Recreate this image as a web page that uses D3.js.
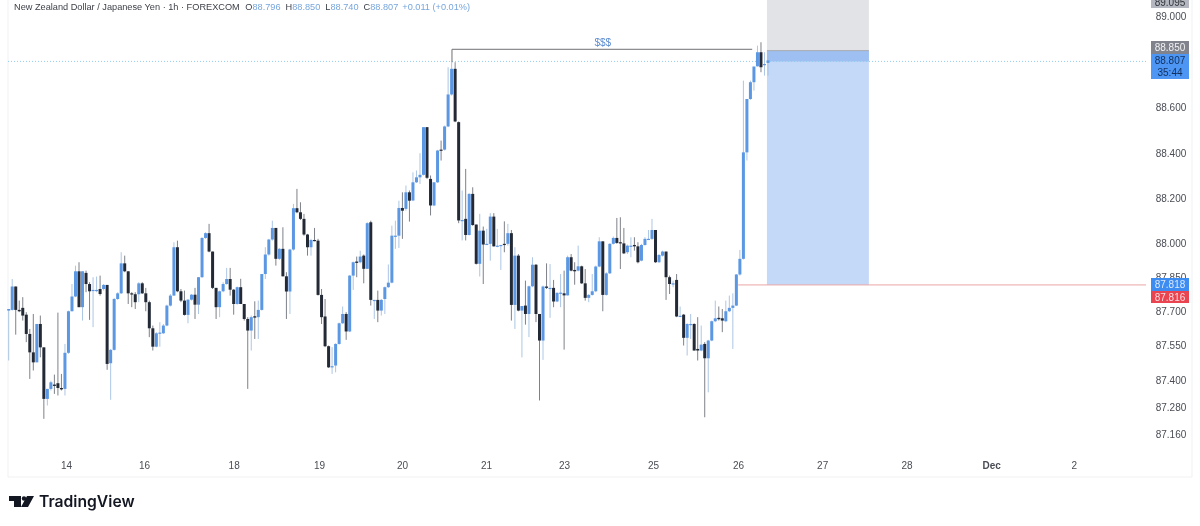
<!DOCTYPE html>
<html lang="en">
<head>
<meta charset="UTF-8">
<title>NZD/JPY 1h</title>
<style>
    body { margin: 0; background: #fff; }
    svg { display: block; filter: blur(0.35px); }
    text { font-family: "Liberation Sans", sans-serif; }
    .tick text { fill: #4a4d55; font-size: 10px; }
</style>
</head>
<body>
<svg id="chart" width="1200" height="526"></svg>
<script src="https://d3js.org/d3.v7.min.js"></script>
<script>
// hourly candles
const opens = [
87.705,87.708,87.811,87.708,87.717,87.687,87.602,87.521,87.477,87.646,
87.543,87.316,87.360,87.379,87.385,87.364,87.360,87.519,87.702,87.767,
87.878,87.720,87.871,87.822,87.793,87.793,87.800,87.800,87.818,87.473,
87.532,87.756,87.781,87.913,87.878,87.781,87.777,87.777,87.825,87.781,
87.742,87.627,87.546,87.605,87.605,87.639,87.727,87.771,87.984,87.790,
87.749,87.686,87.753,87.775,87.731,87.852,88.025,88.046,87.965,87.805,
87.720,87.790,87.822,87.844,87.797,87.734,87.808,87.734,87.668,87.617,
87.680,87.676,87.708,87.866,87.952,88.018,88.069,87.933,87.977,87.856,
87.789,87.974,88.156,88.138,88.109,88.040,87.984,88.016,88.013,87.774,
87.679,87.548,87.455,87.463,87.558,87.649,87.690,87.613,87.859,87.921,
87.918,87.947,87.889,88.094,87.749,87.752,87.705,87.756,87.808,87.828,
88.032,88.035,88.157,88.153,88.226,88.190,88.270,88.292,88.303,88.513,
88.285,88.168,88.270,88.414,88.414,88.516,88.657,88.770,88.535,88.102,
88.109,88.038,88.219,88.084,87.911,88.057,87.996,87.999,88.119,87.988,
87.991,87.999,87.999,88.046,87.730,87.947,87.705,87.727,87.690,87.812,
87.907,87.690,87.573,87.811,87.802,87.805,87.745,87.781,87.781,87.772,
87.940,87.884,87.881,87.900,87.825,87.761,87.774,87.790,87.899,88.010,
87.774,87.869,87.999,88.025,88.006,88.001,87.962,87.988,87.994,87.988,
87.925,87.994,88.018,88.021,88.060,87.918,87.947,87.965,87.852,87.822,
87.840,87.679,87.687,87.585,87.643,87.646,87.536,87.529,87.558,87.495,
87.573,87.658,87.673,87.671,87.658,87.702,87.717,87.727,87.864,87.933,
88.402,88.637,88.711,88.781,88.843,88.787,88.796];
const highs = [
87.712,87.844,87.811,87.749,87.764,87.698,87.624,87.690,87.646,87.683,
87.543,87.360,87.396,87.423,87.696,87.426,87.558,87.705,87.822,87.903,
87.918,87.878,87.881,87.830,87.852,87.855,87.859,87.822,87.818,87.536,
87.761,87.786,87.962,87.947,87.878,87.786,87.786,87.830,87.830,87.805,
87.749,87.639,87.610,87.654,87.646,87.731,87.778,88.006,88.013,87.800,
87.793,87.756,87.778,87.805,87.852,88.028,88.050,88.087,87.965,87.805,
87.793,87.830,87.893,87.893,87.800,87.811,87.845,87.734,87.676,87.683,
87.746,87.749,87.866,87.984,88.021,88.101,88.069,87.981,88.072,87.874,
87.977,88.175,88.241,88.182,88.131,88.043,88.021,88.069,88.021,87.800,
87.756,87.551,87.544,87.561,87.652,87.723,87.698,87.862,87.921,87.943,
87.969,87.952,88.094,88.101,87.752,87.793,87.756,87.811,87.908,88.079,
88.101,88.189,88.226,88.256,88.234,88.314,88.322,88.398,88.513,88.513,
88.300,88.270,88.413,88.454,88.520,88.777,88.799,88.799,88.538,88.234,
88.329,88.222,88.248,88.084,88.131,88.075,88.065,88.134,88.134,88.065,
87.994,88.098,88.087,88.060,87.984,87.954,87.725,87.837,87.815,87.940,
87.910,87.690,87.815,87.913,87.910,87.840,87.786,87.866,87.881,87.947,
87.954,87.918,87.991,87.903,87.888,87.778,87.866,87.903,88.028,88.010,
87.874,88.002,88.031,88.113,88.116,88.069,87.996,88.028,88.028,88.006,
87.999,88.028,88.060,88.109,88.060,87.954,87.969,87.965,87.859,87.837,
87.866,87.723,87.690,87.649,87.690,87.649,87.676,87.639,87.566,87.576,
87.661,87.749,87.723,87.712,87.749,87.771,87.781,87.866,87.972,88.718,
88.637,88.718,88.780,88.872,88.887,88.843,88.850];
const lows = [
87.485,87.705,87.599,87.698,87.661,87.566,87.404,87.441,87.477,87.499,
87.228,87.287,87.353,87.338,87.331,87.353,87.331,87.514,87.702,87.764,
87.720,87.661,87.786,87.664,87.632,87.786,87.771,87.793,87.444,87.312,
87.529,87.752,87.778,87.874,87.734,87.720,87.712,87.742,87.778,87.702,
87.588,87.529,87.543,87.546,87.602,87.636,87.723,87.771,87.786,87.742,
87.683,87.649,87.749,87.668,87.690,87.849,88.021,87.962,87.800,87.668,
87.676,87.786,87.819,87.771,87.687,87.731,87.734,87.661,87.360,87.529,
87.580,87.580,87.705,87.844,87.947,88.013,87.903,87.928,87.855,87.668,
87.690,87.969,88.134,88.104,88.035,87.947,87.947,88.010,87.771,87.646,
87.544,87.452,87.426,87.433,87.555,87.646,87.576,87.610,87.796,87.852,
87.913,87.825,87.889,87.727,87.668,87.654,87.683,87.690,87.805,87.825,
87.977,87.981,88.021,88.145,88.097,88.187,88.267,88.263,88.300,88.285,
88.124,88.165,88.267,88.366,88.410,88.513,88.652,88.535,88.090,88.014,
88.014,88.036,88.078,87.908,87.855,87.822,87.994,87.925,87.987,87.984,
87.884,87.962,87.991,87.661,87.624,87.702,87.499,87.643,87.588,87.808,
87.654,87.309,87.488,87.800,87.673,87.720,87.742,87.720,87.533,87.771,
87.878,87.819,87.878,87.822,87.749,87.742,87.771,87.786,87.896,87.702,
87.771,87.866,87.996,87.999,87.888,87.954,87.954,87.940,87.969,87.913,
87.922,87.991,88.016,88.016,87.915,87.915,87.943,87.752,87.778,87.808,
87.676,87.676,87.551,87.507,87.580,87.529,87.485,87.526,87.235,87.345,
87.570,87.654,87.661,87.610,87.654,87.698,87.536,87.725,87.859,87.930,
88.366,88.633,88.674,88.780,88.755,88.740,88.740];
const closes = [
87.712,87.811,87.708,87.702,87.683,87.602,87.521,87.477,87.646,87.543,
87.316,87.360,87.389,87.373,87.364,87.358,87.519,87.702,87.767,87.878,
87.720,87.878,87.822,87.790,87.796,87.796,87.778,87.818,87.470,87.532,
87.756,87.781,87.913,87.878,87.781,87.777,87.742,87.825,87.781,87.742,
87.627,87.546,87.605,87.608,87.639,87.727,87.771,87.984,87.790,87.749,
87.686,87.753,87.775,87.731,87.852,88.025,88.046,87.965,87.805,87.720,
87.790,87.822,87.844,87.797,87.734,87.808,87.734,87.668,87.617,87.676,
87.674,87.708,87.866,87.952,88.018,88.069,87.933,87.977,87.856,87.789,
87.974,88.156,88.138,88.109,88.040,87.984,88.016,88.013,87.774,87.676,
87.548,87.455,87.460,87.558,87.649,87.690,87.613,87.859,87.918,87.915,
87.943,87.889,88.090,87.752,87.752,87.705,87.752,87.808,87.828,88.035,
88.035,88.157,88.145,88.226,88.189,88.270,88.292,88.303,88.513,88.290,
88.168,88.270,88.410,88.410,88.516,88.657,88.770,88.538,88.102,88.104,
88.038,88.219,88.082,87.911,88.057,87.996,87.999,88.119,87.988,87.991,
87.994,87.994,88.046,87.730,87.947,87.705,87.725,87.690,87.812,87.907,
87.690,87.573,87.811,87.805,87.805,87.745,87.783,87.784,87.772,87.940,
87.881,87.878,87.900,87.825,87.761,87.774,87.790,87.899,88.010,87.774,
87.869,87.999,88.025,88.003,88.001,87.957,87.991,87.991,87.988,87.918,
87.994,88.021,88.021,88.060,87.918,87.950,87.965,87.852,87.822,87.825,
87.679,87.682,87.585,87.646,87.646,87.529,87.529,87.555,87.495,87.573,
87.658,87.671,87.667,87.661,87.702,87.717,87.727,87.864,87.933,88.402,
88.637,88.711,88.780,88.843,88.777,88.791,88.807];

const priceTicks = [89, 88.6, 88.4, 88.2, 88, 87.85, 87.7, 87.55, 87.4, 87.28, 87.16];
// bar number each date label sits on
const dateBars = [16.3, 38.5, 64, 88.3, 111.9, 135.8, 158, 183.3, 207.5, 231.4, 255.4, 279.5, 303];
const dateLabels = ["14", "16", "18", "19", "20", "21", "23", "25", "26", "27", "28", "Dec", "2"];

const lastPrice = 88.807;
const entryPrice = 88.85;
const stopPrice = 89.095;
const targetPrice = 87.818;
const liquidityPrice = 88.856;

const svg = d3.select("#chart");

const x = d3.scaleLinear().domain([0, opens.length - 1]).range([8.7, 768]);
const y = d3.scaleLinear().domain([87.16, 89]).range([434.3, 16.6]);

const BLUE = "#5b97e2", DARK = "#232a36";
const plotLeft = 8, plotRight = 1146, plotBottom = 477;

// frame
svg.append("path").attr("d", `M${plotLeft},0V${plotBottom}H1192V0`)
    .attr("fill", "none").attr("stroke", "#f0f1f3");

// position tool
const boxLeft = x(215.7), boxRight = x(244.7);
svg.append("rect").attr("x", boxLeft).attr("width", boxRight - boxLeft)
    .attr("y", 0).attr("height", y(entryPrice)).attr("fill", "#e2e3e7");
svg.append("rect").attr("x", boxLeft).attr("width", boxRight - boxLeft)
    .attr("y", y(entryPrice)).attr("height", y(targetPrice) - y(entryPrice)).attr("fill", "#c4d8f8");
svg.append("rect").attr("x", boxLeft).attr("width", boxRight - boxLeft)
    .attr("y", y(entryPrice)).attr("height", y(lastPrice) - y(entryPrice) + 1).attr("fill", "#9dbff2");
svg.append("line").attr("x1", boxLeft).attr("x2", boxRight)
    .attr("y1", y(entryPrice)).attr("y2", y(entryPrice)).attr("stroke", "#a9a9b0");

// last price line
svg.append("line").attr("x1", plotLeft).attr("x2", plotRight)
    .attr("y1", y(lastPrice) + 1).attr("y2", y(lastPrice) + 1)
    .attr("stroke", "#8fcdf0").attr("stroke-dasharray", "1 2");

// target line
svg.append("line").attr("x1", x(207.5)).attr("x2", plotRight)
    .attr("y1", y(targetPrice)).attr("y2", y(targetPrice)).attr("stroke", "#eaa6a6");

// $$$ line
svg.append("path")
    .attr("d", `M${x(126.1)},${y(lastPrice) + 2}V${y(liquidityPrice)}H${x(211.5)}`)
    .attr("fill", "none").attr("stroke", "#6f6f74");
svg.append("text").attr("x", x(169)).attr("y", 46).attr("text-anchor", "middle")
    .attr("font-size", 10).attr("fill", "#5a8bd0").text("$$$");

// candles
const idx = d3.range(opens.length);
const isUp = i => closes[i] >= opens[i];

svg.append("g").selectAll("line").data(idx).join("line")
    .attr("x1", i => x(i)).attr("x2", i => x(i))
    .attr("y1", i => y(highs[i])).attr("y2", i => y(lows[i]))
    .attr("stroke", i => isUp(i) ? "#a3bfe2" : "#6f737a")
    .attr("stroke-width", 0.9);

svg.append("g").selectAll("rect").data(idx).join("rect")
    .attr("x", i => x(i) - 1.5).attr("width", 3)
    .attr("y", i => y(Math.max(opens[i], closes[i])))
    .attr("height", i => Math.max(1.2, Math.abs(y(opens[i]) - y(closes[i]))))
    .attr("fill", i => isUp(i) ? BLUE : DARK);

// axes
const yAxis = d3.axisRight(y).tickValues(priceTicks).tickFormat(d3.format(".3f")).tickSize(0);
svg.append("g").attr("transform", "translate(1171,0)").call(yAxis)
    .call(g => g.select(".domain").remove())
    .selectAll("text").attr("x", 0).attr("text-anchor", "middle");

const xAxis = d3.axisBottom(x).tickValues(dateBars)
    .tickFormat((d, i) => dateLabels[i]).tickSize(0);
svg.append("g").attr("transform", "translate(0,459)").call(xAxis)
    .call(g => g.select(".domain").remove())
    .selectAll("text").attr("y", 3).attr("font-weight", (d, i) => dateLabels[i] === "Dec" ? "bold" : null);

// price labels on the axis
const tags = [
    { price: stopPrice, top: 0, h: 8, fill: "#b4b7bf", color: "#33353b", text: "89.095", base: 6 },
    { price: entryPrice, top: 41, h: 13, fill: "#80838c", color: "#f2f2f4", text: "88.850", base: 51 },
    { price: lastPrice, top: 54, h: 25, fill: "#4d96f4", color: "#12305e", text: "88.807", base: 64 },
    { price: targetPrice, top: 278, h: 13, fill: "#3d8cf2", color: "#dbe8fb", text: "87.818", base: 288 },
    { price: targetPrice, top: 291, h: 12, fill: "#ea4450", color: "#fbdcdf", text: "87.816", base: 300.5 }
];
const tagG = svg.append("g");
tagG.selectAll("rect").data(tags).join("rect")
    .attr("x", 1151).attr("width", 38).attr("y", d => d.top).attr("height", d => d.h)
    .attr("fill", d => d.fill);
tagG.selectAll("text").data(tags).join("text")
    .attr("x", 1170).attr("y", d => d.base).attr("text-anchor", "middle")
    .attr("font-size", 10).attr("fill", d => d.color).text(d => d.text);
tagG.append("text").attr("x", 1170).attr("y", 76).attr("text-anchor", "middle")
    .attr("font-size", 10).attr("fill", "#12305e").text("35:44");

// legend line
const head = svg.append("text").attr("x", 14).attr("y", 10).attr("font-size", 9.2).attr("fill", "#3c3f47");
head.append("tspan").text("New Zealand Dollar / Japanese Yen · 1h · FOREXCOM ");
const legend = [["O", "88.796"], ["H", "88.850"], ["L", "88.740"], ["C", "88.807"]];
legend.forEach(([k, v], i) => {
    head.append("tspan").attr("dx", i === 0 ? 3 : 5).text(k);
    head.append("tspan").attr("fill", "#78a6dc").text(v);
});
head.append("tspan").attr("dx", 4).attr("fill", "#78a6dc").text("+0.011 (+0.01%)");

// TradingView logo
svg.append("path").attr("fill", "#131722")
    .attr("d", "M9,496H21V507H14V501H9Z M27,496H34L28,507H21Z");
svg.append("circle").attr("cx", 24).attr("cy", 498.5).attr("r", 2.2).attr("fill", "#131722");
svg.append("text").attr("x", 39).attr("y", 507).attr("font-size", 15.7).attr("font-weight", 600)
    .attr("fill", "#131722").style("font-family", "Inter, sans-serif").text("TradingView");
</script>
</body>
</html>
